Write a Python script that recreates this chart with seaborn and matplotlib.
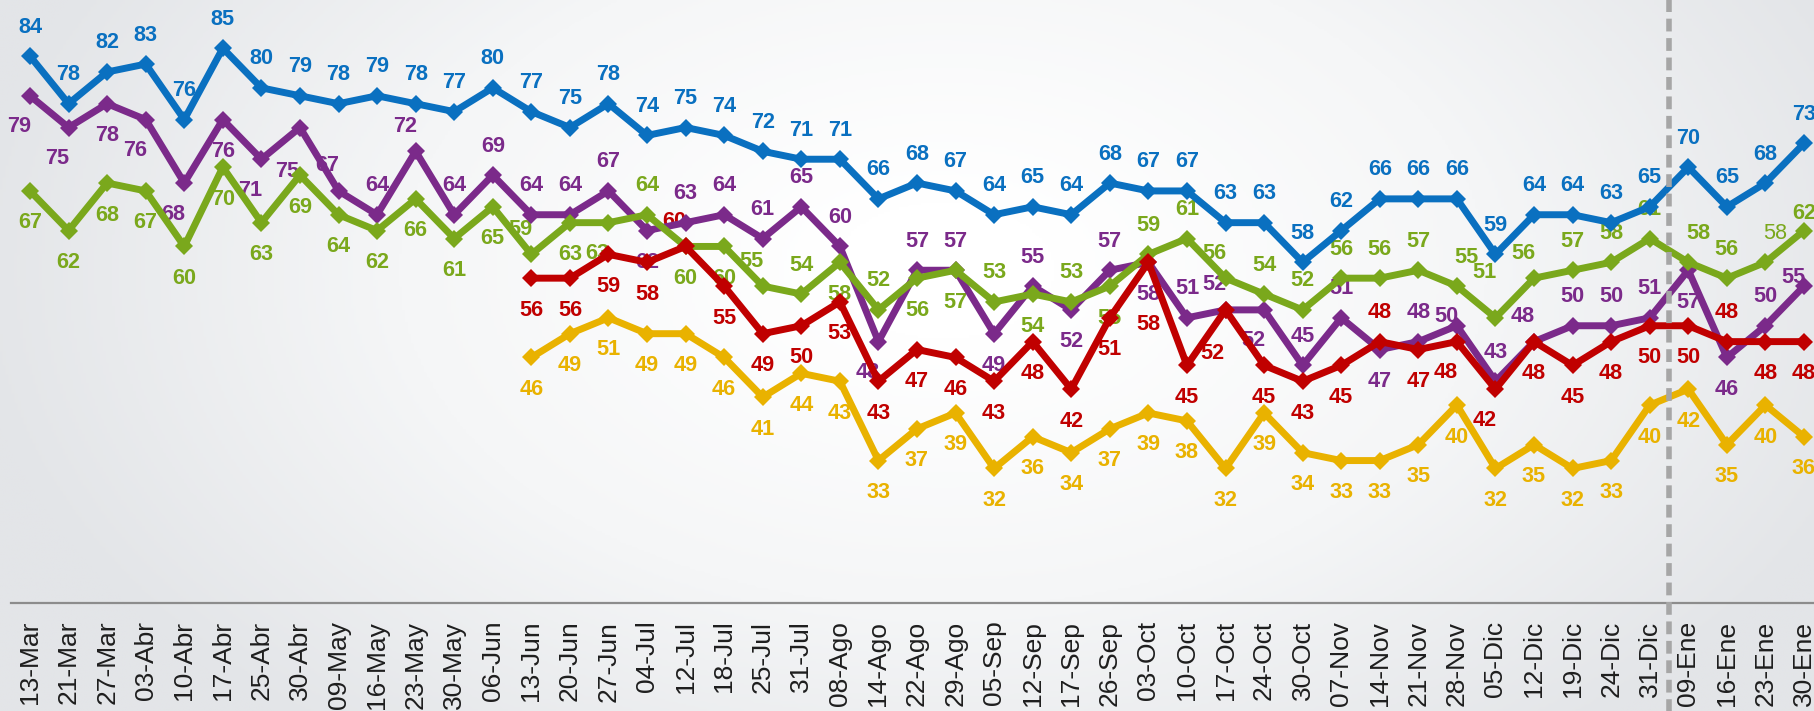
import numpy as np
import pandas as pd
import matplotlib
matplotlib.use("Agg")
import matplotlib.pyplot as plt
import seaborn as sns
from matplotlib.colors import LinearSegmentedColormap

# ---------------- data ----------------
dates = ["13-Mar", "21-Mar", "27-Mar", "03-Abr", "10-Abr", "17-Abr", "25-Abr", "30-Abr",
         "09-May", "16-May", "23-May", "30-May", "06-Jun", "13-Jun", "20-Jun", "27-Jun",
         "04-Jul", "12-Jul", "18-Jul", "25-Jul", "31-Jul", "08-Ago", "14-Ago", "22-Ago",
         "29-Ago", "05-Sep", "12-Sep", "17-Sep", "26-Sep", "03-Oct", "10-Oct", "17-Oct",
         "24-Oct", "30-Oct", "07-Nov", "14-Nov", "21-Nov", "28-Nov", "05-Dic", "12-Dic",
         "19-Dic", "24-Dic", "31-Dic", "09-Ene", "16-Ene", "23-Ene", "30-Ene"]

blue = [84, 78, 82, 83, 76, 85, 80, 79, 78, 79, 78, 77, 80, 77, 75, 78, 74, 75, 74, 72,
        71, 71, 66, 68, 67, 64, 65, 64, 68, 67, 67, 63, 63, 58, 62, 66, 66, 66, 59, 64,
        64, 63, 65, 70, 65, 68, 73]
purple = [79, 75, 78, 76, 68, 76, 71, 75, 67, 64, 72, 64, 69, 64, 64, 67, 62, 63, 64, 61,
          65, 60, 48, 57, 57, 49, 55, 52, 57, 58, 51, 52, 52, 45, 51, 47, 48, 50, 43, 48,
          50, 50, 51, 57, 46, 50, 55]
green = [67, 62, 68, 67, 60, 70, 63, 69, 64, 62, 66, 61, 65, 59, 63, 63, 64, 60, 60, 55,
         54, 58, 52, 56, 57, 53, 54, 53, 55, 59, 61, 56, 54, 52, 56, 56, 57, 55, 51, 56,
         57, 58, 61, 58, 56, 58, 62]
red_start = "13-Jun"
red = [56, 56, 59, 58, 60, 55, 49, 50, 53, 43, 47, 46, 43, 48, 42, 51, 58, 45, 52, 45,
       43, 45, 48, 47, 48, 42, 48, 45, 48, 50, 50, 48, 48, 48]
yellow_start = "13-Jun"
yellow = [46, 49, 51, 49, 49, 46, 41, 44, 43, 33, 37, 39, 32, 36, 34, 37, 39, 38, 32, 39,
          34, 33, 33, 35, 40, 32, 35, 32, 33, 40, 42, 35, 40, 36]
divider_after = "31-Dic"

# ---------------- label placement (style) ----------------
place_blue = ["a"] * len(blue)
place_purple = ["bl", "bl", "b", "bl", "bl", "b", "bl", "bbl", "al", "a", "al", "a", "a", "a",
                "a", "a", "b", "a", "a", "a", "a", "a", "bl", "a", "a", "b", "a", "b", "a",
                "b", "a", "al", "bl", "a", "a", "b", "a", "l", "a", "al", "a", "a", "a", "b",
                "b", "a", "l"]
place_green = ["b", "b", "b", "b", "b", "b", "b", "b", "b", "b", "b", "b", "b", "al", "b",
               "bl", "a", "b", "b", "al", "a", "b", "a", "b", "b", "a", "b", "a", "b", "a",
               "a", "al", "a", "a", "a", "a", "a", "ar", "aal", "al", "a", "a", "a", "ar",
               "a", "ar", "as"]
place_red = ["b", "b", "b", "b", "al", "b", "b", "b", "b", "b", "b", "b", "b", "b", "b", "b",
             "bb", "b", "bbl", "b", "b", "b", "a", "b", "bl", "bl", "b", "b", "b", "b", "b",
             "a", "b", "b"]
place_yellow = ["b"] * len(yellow)
light_labels = {("green", 45)}

offsets = {"a": (0, 29), "b": (0, -32), "al": (-11, 25), "bl": (-11, -31), "ar": (10, 29),
           "l": (-11, 9), "bbl": (-13, -44), "bb": (0, -62), "aal": (-11, 45), "as": (0, 17)}

colors = {"blue": "#0A70C0", "purple": "#7B2A8A", "green": "#7AA81C",
          "red": "#C00000", "yellow": "#E9B200"}

# ---------------- build table ----------------
rows = []
def add(name, start, vals, places):
    i0 = dates.index(start)
    for k, v in enumerate(vals):
        rows.append({"series": name, "pos": i0 + k, "date": dates[i0 + k], "value": v,
                     "place": places[k], "idx": i0 + k})
add("blue", dates[0], blue, place_blue)
add("purple", dates[0], purple, place_purple)
add("green", dates[0], green, place_green)
add("red", red_start, red, place_red)
add("yellow", yellow_start, yellow, place_yellow)
df = pd.DataFrame(rows)

# ---------------- figure ----------------
sns.set_style("white")
plt.rcParams["font.family"] = ["Liberation Sans", "DejaVu Sans"]

W, H = 1814, 711
fig = plt.figure(figsize=(W / 100, H / 100), dpi=100)

# background gradient
bg = fig.add_axes([0, 0, 1, 1], zorder=0)
yy, xx = np.mgrid[0:1:300j, 0:1:600j]
d = np.sqrt(((xx - 0.52) / 0.6) ** 2 + ((yy - 0.62) / 0.95) ** 2)
cmap = LinearSegmentedColormap.from_list("bg", ["#FFFFFF", "#F5F6F7", "#E3E5E8"])
bg.imshow(d, cmap=cmap, extent=[0, 1, 0, 1], aspect="auto", vmin=0.1, vmax=0.9, origin="lower")
bg.axis("off")

n = len(dates)
step = (1804 - 30) / (n - 1)
left_px = 30 - step / 2
axis_y = 603.3
ax = fig.add_axes([left_px / W, (H - axis_y) / H, n * step / W, axis_y / H], zorder=1)
ax.patch.set_alpha(0)

sns.lineplot(data=df, x="pos", y="value", hue="series",
             hue_order=["blue", "purple", "green", "red", "yellow"],
             palette=colors, marker="D", markersize=9, markeredgewidth=0,
             linewidth=5.0, estimator=None, errorbar=None, legend=False,
             sort=True, ax=ax, zorder=3)

for _, r in df.iterrows():
    dx, dy = offsets[r["place"]]
    light = (r["series"], r["idx"]) in light_labels
    ax.annotate(str(r["value"]), (r["pos"], r["value"]), xytext=(dx, dy),
                textcoords="offset pixels", ha="center", va="center",
                fontsize=15.6, fontweight="normal" if light else "bold",
                color=colors[r["series"]], zorder=2)

ax.set_xlim(-0.5, n - 0.5)
ax.set_ylim(15, 15 + axis_y / 7.93)

# divider
xd = dates.index(divider_after) + 0.5
ax.axvline(xd, ymin=-0.2, ymax=1.0, clip_on=False, color="#A6A6A6", lw=4.0,
           dashes=(2.3, 1.2), zorder=6)

# axes styling
for s in ["top", "right", "left"]:
    ax.spines[s].set_visible(False)
ax.spines["bottom"].set_color("#8C8C8C")
ax.spines["bottom"].set_linewidth(1.6)
ax.set_yticks([])
ax.set_xticks(range(n))
ax.set_xticklabels(dates, rotation=90, fontsize=19, color="#1E1E1E")
ax.set_xticks(np.arange(-0.5, n, 1.0), minor=True)
ax.tick_params(axis="x", which="major", length=0, pad=12.5)
ax.tick_params(axis="x", which="minor", length=5.5, width=1.2, color="#8C8C8C", direction="out")
ax.set_xlabel("")
ax.set_ylabel("")

fig.savefig("out.png", dpi=100)
